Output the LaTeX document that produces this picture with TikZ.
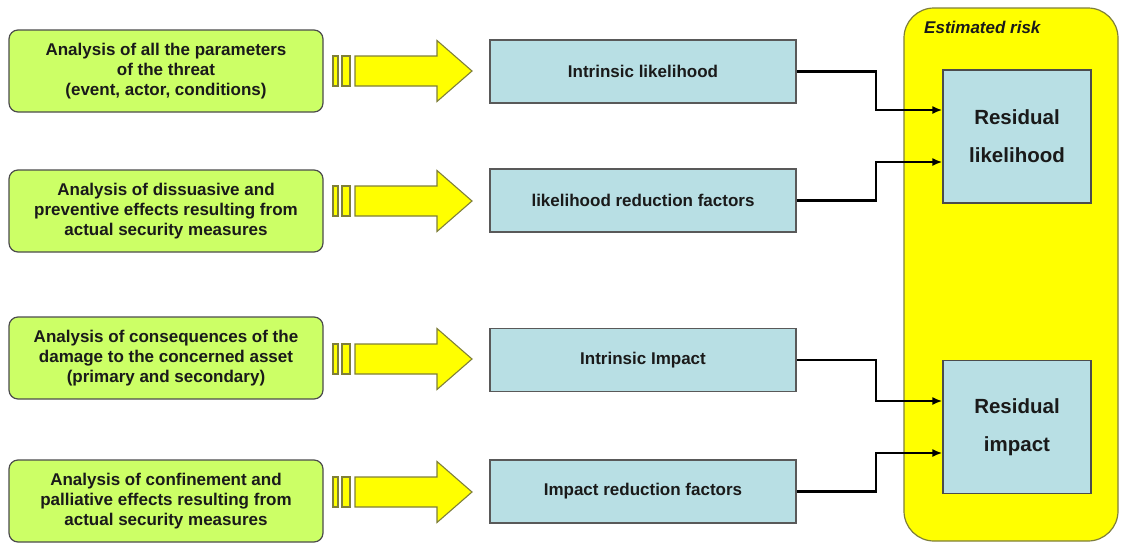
\documentclass[tikz,border=0pt]{standalone}
\usepackage{fontspec}
\setmainfont{Liberation Sans}
\usetikzlibrary{arrows.meta,calc}
\definecolor{greenfill}{HTML}{CCFF66}
\definecolor{bluefill}{HTML}{B8DFE4}
\definecolor{yel}{HTML}{FFFF00}
\definecolor{olive2}{HTML}{7F7F3A}
\definecolor{txt}{HTML}{1A1A1A}
\tikzset{
  greenbox/.style={draw=black!70, line width=1.2pt, fill=greenfill, rounded corners=9pt,
    minimum width=314pt, minimum height=82pt, align=center, text=txt,
    font=\fontsize{17}{19.8}\selectfont\bfseries, inner sep=0pt},
  bluebox/.style={draw=black!65, line width=1.2pt, fill=bluefill,
    minimum width=306pt, minimum height=63pt, align=center, text=txt,
    font=\fontsize{17}{19}\selectfont\bfseries, inner sep=0pt},
  resbox/.style={draw=black!70, line width=1.2pt, fill=bluefill,
    minimum width=148pt, minimum height=133pt, align=center, text=txt,
    font=\fontsize{20.5}{38}\selectfont\bfseries, inner sep=0pt},
  bigarrow/.style={draw=olive2, line width=1.1pt, fill=yel, line join=miter},
  conn/.style={draw=black, line width=2.1pt, -{Latex[length=10pt,width=8pt]}}
}
\newcommand{\fatarrow}[1]{%
  \path[bigarrow] (333,#1-15) rectangle (338,#1+15);
  \path[bigarrow] (342,#1-15) rectangle (350,#1+15);
  \path[bigarrow] (355,#1-15) -- (437,#1-15) -- (437,#1-30.5) -- (472,#1) --
    (437,#1+30.5) -- (437,#1+15) -- (355,#1+15) -- cycle;
}
\begin{document}
\begin{tikzpicture}[x=1pt,y=-1pt]
\useasboundingbox (0,0) rectangle (1122,544);
% big yellow container
\node[draw=olive2, line width=1.2pt, fill=yel, rounded corners=30pt,
  minimum width=214pt, minimum height=533pt, inner sep=0pt] (risk) at (1011,274.5) {};
\node[anchor=west, text=txt, font=\fontsize{17}{19}\selectfont\bfseries\itshape, inner sep=0pt]
  (risklabel) at (924,27) {Estimated risk};
\node[resbox] (rl) at (1017,136.5) {Residual\\likelihood};
\node[resbox] (ri) at (1017,427) {Residual\\impact};
% green boxes
\node[greenbox] (g1) at (166,71) {Analysis of all the parameters\\of the threat\\(event, actor, conditions)};
\node[greenbox] (g2) at (166,211) {Analysis of dissuasive and\\preventive effects resulting from\\actual security measures};
\node[greenbox] (g3) at (166,358) {Analysis of consequences of the\\damage to the concerned asset\\(primary and secondary)};
\node[greenbox] (g4) at (166,501) {Analysis of confinement and\\palliative effects resulting from\\actual security measures};
% arrows
\fatarrow{71}
\fatarrow{201}
\fatarrow{359}
\fatarrow{492}
% blue boxes
\node[bluebox] (b1) at (643,71.5) {Intrinsic likelihood};
\node[bluebox] (b2) at (643,200.5) {likelihood reduction factors};
\node[bluebox] (b3) at (643,360) {Intrinsic Impact};
\node[bluebox] (b4) at (643,491.5) {Impact reduction factors};
% connectors
\draw[conn] (b1.east) -- ++(79,0) |- ([yshift=26.5pt]rl.west);
\draw[conn] (b2.east) -- ++(79,0) |- ([yshift=-25.5pt]rl.west);
\draw[conn] (b3.east) -- ++(79,0) |- ([yshift=26pt]ri.west);
\draw[conn] (b4.east) -- ++(79,0) |- ([yshift=-26pt]ri.west);
\end{tikzpicture}
\end{document}
